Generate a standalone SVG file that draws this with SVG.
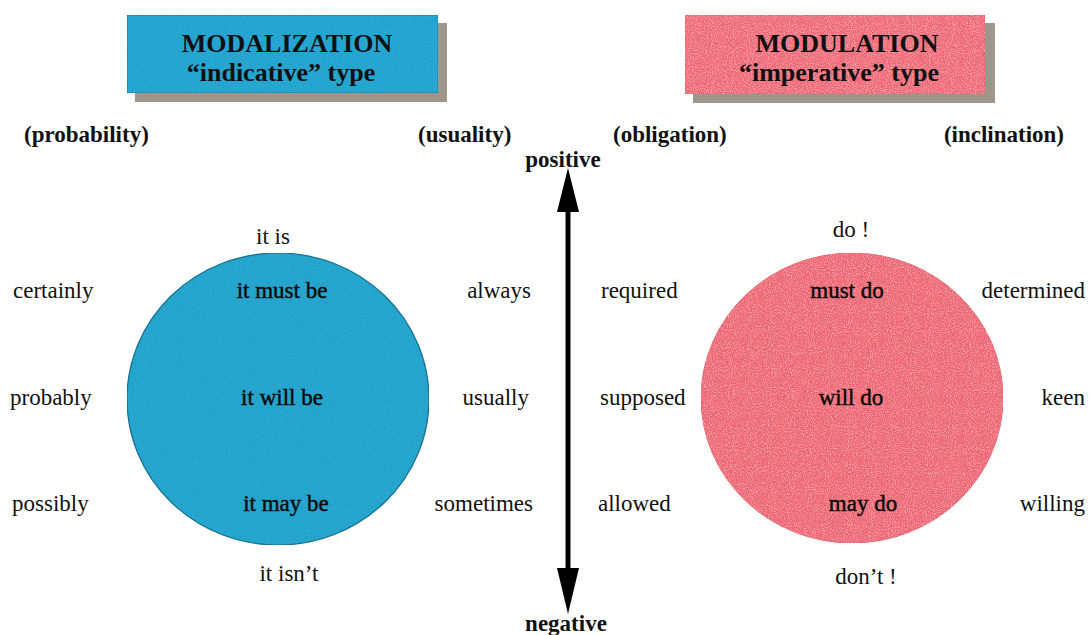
<svg xmlns="http://www.w3.org/2000/svg" width="1089" height="635" viewBox="0 0 1089 635" font-family="'Liberation Serif', 'Times New Roman', 'DejaVu Serif', serif">
<style>
text{font-family:'Liberation Serif','Times New Roman',Tinos,'DejaVu Serif',serif}
.t{font-size:23px;fill:#111}
.b{font-size:23px;font-weight:bold;fill:#111}
.h{font-size:26px;font-weight:bold;fill:#111}
.in{font-size:23px;fill:#0a0a0a;stroke:#0a0a0a;stroke-width:0.45}
.shadow{fill:#9d978b}
.c{text-anchor:middle}
.e{text-anchor:end}
</style>
<defs>
<filter id="noise" x="0" y="0" width="100%" height="100%">
<feTurbulence type="fractalNoise" baseFrequency="0.9" numOctaves="2" seed="3" result="n"/>
<feColorMatrix in="n" type="matrix" values="0 0 0 0 0  0 0 0 0 0.25  0 0 0 0 0.35  0 0 0 -1 0.6" result="w"/>
<feComposite in="w" in2="SourceGraphic" operator="in" result="wm"/>
<feMerge><feMergeNode in="SourceGraphic"/><feMergeNode in="wm"/></feMerge>
</filter>
<filter id="noiseR" x="0" y="0" width="100%" height="100%">
<feTurbulence type="fractalNoise" baseFrequency="0.95" numOctaves="2" seed="7" result="n"/>
<feColorMatrix in="n" type="matrix" values="0 0 0 0 1  0 0 0 0 0.75  0 0 0 0 0.7  0 0 0 -1.1 0.62" result="w"/>
<feComposite in="w" in2="SourceGraphic" operator="in" result="wm"/>
<feMerge><feMergeNode in="SourceGraphic"/><feMergeNode in="wm"/></feMerge>
</filter>
</defs>
<rect width="1089" height="635" fill="#fff"/>

<g id="modalization-box">
<rect class="shadow" x="135" y="23" width="312" height="79"/>
<rect x="127" y="15" width="311" height="78" fill="#29a9d6" stroke="#1d7fa6" stroke-width="1" filter="url(#noise)"/>
<text class="h c" x="287" y="52">MODALIZATION</text>
<text class="h c" x="281" y="81">“indicative” type</text>
</g>

<g id="modulation-box">
<rect class="shadow" x="693" y="23" width="302" height="80"/>
<rect x="685" y="15" width="300" height="79" fill="#ef6878" stroke="#e05a6a" stroke-width="1" filter="url(#noiseR)"/>
<text class="h c" x="847" y="52">MODULATION</text>
<text class="h c" x="839" y="81">“imperative” type</text>
</g>

<g id="headers">
<text class="b" x="24" y="142">(probability)</text>
<text class="b" x="418" y="142">(usuality)</text>
<text class="b" x="613" y="142">(obligation)</text>
<text class="b e" x="1064" y="142">(inclination)</text>
</g>

<g id="modalization-circle">
<ellipse cx="278" cy="399" rx="151" ry="146" fill="#2aa8d2" stroke="#1b6f8f" stroke-width="1.2" filter="url(#noise)"/>
<text class="in c" x="282" y="298">it must  be</text>
<text class="in c" x="282" y="405">it  will  be</text>
<text class="in c" x="286" y="511">it  may  be</text>
</g>

<g id="modalization-labels">
<text class="t c" x="273" y="244">it is</text>
<text class="t c" x="289" y="581">it isn’t</text>
<text class="t" x="13" y="298">certainly</text>
<text class="t" x="10" y="405">probably</text>
<text class="t" x="12" y="511">possibly</text>
<text class="t e" x="531" y="298">always</text>
<text class="t e" x="529" y="405">usually</text>
<text class="t e" x="533" y="511">sometimes</text>
</g>

<g id="modulation-circle">
<ellipse cx="852" cy="398" rx="151" ry="145" fill="#ee6575" stroke="#e35a6a" stroke-width="1" filter="url(#noiseR)"/>
<text class="in c" x="847" y="298">must do</text>
<text class="in c" x="851" y="405">will do</text>
<text class="in c" x="863" y="511">may do</text>
</g>

<g id="modulation-labels">
<text class="t c" x="851" y="237">do !</text>
<text class="t c" x="866" y="584">don’t  !</text>
<text class="t" x="601" y="298">required</text>
<text class="t" x="600" y="405">supposed</text>
<text class="t" x="598" y="511">allowed</text>
<text class="t e" x="1085" y="298">determined</text>
<text class="t e" x="1085" y="405">keen</text>
<text class="t e" x="1085" y="511">willing</text>
</g>

<g id="axis-labels">
<text class="b c" x="563" y="167">positive</text>
<text class="b c" x="566" y="631">negative</text>
</g>

<g id="connectors">
<line x1="568" y1="208" x2="568" y2="572" stroke="#000" stroke-width="5"/>
<polygon points="568,168 557,212 579,212" fill="#000"/>
<polygon points="568,614 557,568 579,568" fill="#000"/>
</g>
</svg>
